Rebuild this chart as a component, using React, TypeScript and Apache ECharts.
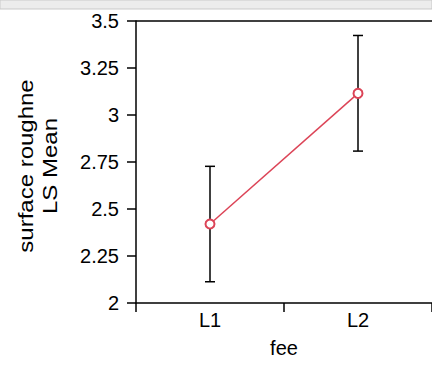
import React, { useEffect, useRef } from "react";
import * as echarts from "echarts";

// Least-squares means of surface roughness by fee level, with confidence limits
const categories = ["L1", "L2"];
const lsMeans = [2.42, 3.115];
const lowerLimits = [2.113, 2.808];
const upperLimits = [2.727, 3.423];
const yTicks = [2, 2.25, 2.5, 2.75, 3, 3.25, 3.5];

const FONT = "'Liberation Sans', Arial, sans-serif";

export default function App() {
  const ref = useRef<HTMLDivElement>(null);

  useEffect(() => {
    if (!ref.current) return;
    const chart = echarts.init(ref.current, undefined, { renderer: "svg" });

    const errorData = categories.map((c, i) => [i, lowerLimits[i], upperLimits[i]]);

    chart.setOption({
      animation: false,
      backgroundColor: "#ffffff",
      grid: { left: 136, top: 21, width: 300, height: 282, containLabel: false },
      xAxis: {
        type: "category",
        data: categories,
        boundaryGap: true,
        name: "fee",
        nameLocation: "middle",
        nameGap: 35,
        nameTextStyle: { color: "#000", fontSize: 20, fontFamily: FONT },
        axisLine: { lineStyle: { color: "#000", width: 1.5 } },
        axisTick: { show: true, length: 9, lineStyle: { color: "#000", width: 1.5 } },
        axisLabel: { color: "#000", fontSize: 20, fontFamily: FONT, margin: 7 },
        splitLine: { show: false },
      },
      yAxis: {
        type: "value",
        min: yTicks[0],
        max: yTicks[yTicks.length - 1],
        interval: 0.25,
        axisLine: { show: true, lineStyle: { color: "#000", width: 1.5 } },
        axisTick: { show: true, length: 9, lineStyle: { color: "#000", width: 1.5 } },
        axisLabel: { color: "#000", fontSize: 20, fontFamily: FONT, margin: 17 },
        splitLine: { show: false },
      },
      graphic: [
        {
          type: "rect",
          shape: { x: 0, y: 0, width: 432, height: 9 },
          style: { fill: "#ececec", stroke: "#c9c9c9", lineWidth: 1 },
          z: 100,
        },
        {
          type: "line",
          shape: { x1: 136, y1: 21, x2: 432, y2: 21 },
          style: { stroke: "#000", lineWidth: 1.5 },
          z: 100,
        },
        {
          type: "text",
          x: 38,
          y: 166,
          rotation: Math.PI / 2,
          scaleX: 1.2,
          style: {
            text: "surface roughne\nLS Mean",
            fill: "#000",
            fontSize: 20,
            fontFamily: FONT,
            align: "center",
            verticalAlign: "middle",
            lineHeight: 24,
          },
        },
      ],
      series: [
        {
          type: "custom",
          data: errorData,
          z: 2,
          renderItem: (params: any, api: any) => {
            const x = api.value(0);
            const lo = api.coord([x, api.value(1)]);
            const hi = api.coord([x, api.value(2)]);
            const cap = 5;
            const style = { stroke: "#000", lineWidth: 1.5 };
            return {
              type: "group",
              children: [
                { type: "line", shape: { x1: hi[0], y1: hi[1], x2: lo[0], y2: lo[1] }, style },
                { type: "line", shape: { x1: hi[0] - cap, y1: hi[1], x2: hi[0] + cap, y2: hi[1] }, style },
                { type: "line", shape: { x1: lo[0] - cap, y1: lo[1], x2: lo[0] + cap, y2: lo[1] }, style },
              ],
            };
          },
        },
        {
          type: "line",
          data: lsMeans,
          z: 3,
          symbol: "emptyCircle",
          symbolSize: 9,
          lineStyle: { color: "#dc4457", width: 1.5 },
          itemStyle: { color: "#dc4457", borderColor: "#dc4457", borderWidth: 1.5 },
        },
      ],
    });

    return () => chart.dispose();
  }, []);

  return <div ref={ref} style={{ width: 432, height: 369, position: "absolute", left: 0, top: 0 }} />;
}
